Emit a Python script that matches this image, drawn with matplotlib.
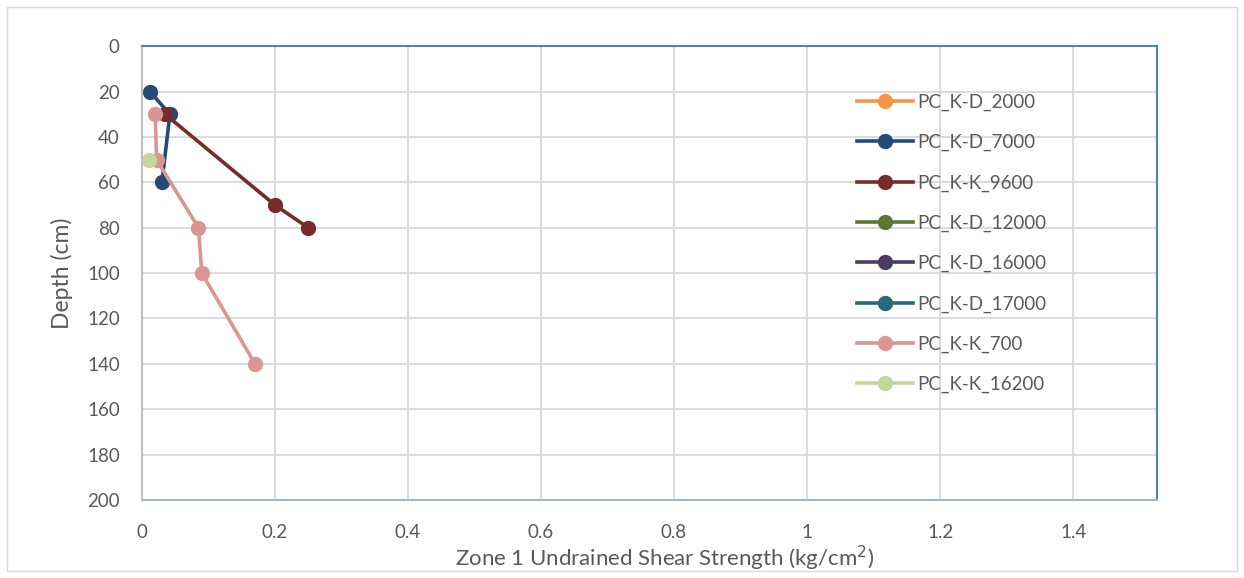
import matplotlib
matplotlib.use("Agg")
from matplotlib import pyplot as plt
from matplotlib.patches import Rectangle

plt.rcParams['font.family'] = ['Lato', 'DejaVu Sans']

# series in legend order (empty ones only show in the legend)
names = ['PC_K-D_2000', 'PC_K-D_7000', 'PC_K-K_9600', 'PC_K-D_12000',
         'PC_K-D_16000', 'PC_K-D_17000', 'PC_K-K_700', 'PC_K-K_16200']
colors = ['#F79646', '#254A78', '#772C2A', '#5F7530',
          '#4D3B62', '#276A7C', '#D99694', '#C3D69B']

strength_2000 = []
depth_2000 = []
strength_7000 = [0.012, 0.042, 0.030]
depth_7000 = [20, 30, 60]
strength_9600 = [0.035, 0.20, 0.25]
depth_9600 = [30, 70, 80]
strength_12000 = []
depth_12000 = []
strength_16000 = []
depth_16000 = []
strength_17000 = []
depth_17000 = []
strength_700 = [0.020, 0.022, 0.085, 0.090, 0.170]
depth_700 = [30, 50, 80, 100, 140]
strength_16200 = [0.010]
depth_16200 = [50]

xs = [strength_2000, strength_7000, strength_9600, strength_12000,
      strength_16000, strength_17000, strength_700, strength_16200]
ys = [depth_2000, depth_7000, depth_9600, depth_12000,
      depth_16000, depth_17000, depth_700, depth_16200]

x_ticks = [0, 0.2, 0.4, 0.6, 0.8, 1, 1.2, 1.4]
x_tick_labels = ['0', '0.2', '0.4', '0.6', '0.8', '1', '1.2', '1.4']
y_ticks = list(range(0, 201, 20))

fig = plt.figure(figsize=(12.44, 5.78), dpi=100)
ax = fig.add_axes([0.1141, 0.135, 0.8159, 0.785])

for x, y, name, c in zip(xs, ys, names, colors):
    ax.plot(x, y, '-o', color=c, lw=2.6, markersize=10, label=name,
            clip_on=False)

ax.set_xlim(0, 1.526)
ax.set_ylim(200, 0)
ax.set_xticks(x_ticks)
ax.set_xticklabels(x_tick_labels)
ax.set_yticks(y_ticks)
ax.grid(True, color='#D9D9D9', lw=1.3)
ax.set_axisbelow(True)
ax.tick_params(length=0, labelsize=13.5, colors='#595959')
ax.tick_params(axis='x', pad=17)
ax.tick_params(axis='y', pad=16)

ax.spines['top'].set_color('#4F81BD')
ax.spines['right'].set_color('#4F81BD')
ax.spines['bottom'].set_color('#A6B4C8')
ax.spines['left'].set_color('#BFBFBF')
for s in ax.spines.values():
    s.set_linewidth(1.5)

ax.set_ylabel('Depth (cm)', fontsize=16.5, color='#595959', labelpad=10)
fig.text(0.534, 0.034, 'Zone 1 Undrained Shear Strength (kg/cm$^2$)',
         fontsize=16, color='#595959', ha='center', va='center')

leg = ax.legend(loc='upper left', bbox_to_anchor=(0.697, 0.912),
                frameon=False, fontsize=13.5, handlelength=3.0,
                labelspacing=1.23, handletextpad=0.2, borderaxespad=0)
for t in leg.get_texts():
    t.set_color('#595959')

# chart area border
fig.patches.append(Rectangle((0.006, 0.012), 0.988, 0.976,
                             transform=fig.transFigure, fill=False,
                             edgecolor='#D9D9D9', lw=1))

plt.savefig('out.png', dpi=100)
